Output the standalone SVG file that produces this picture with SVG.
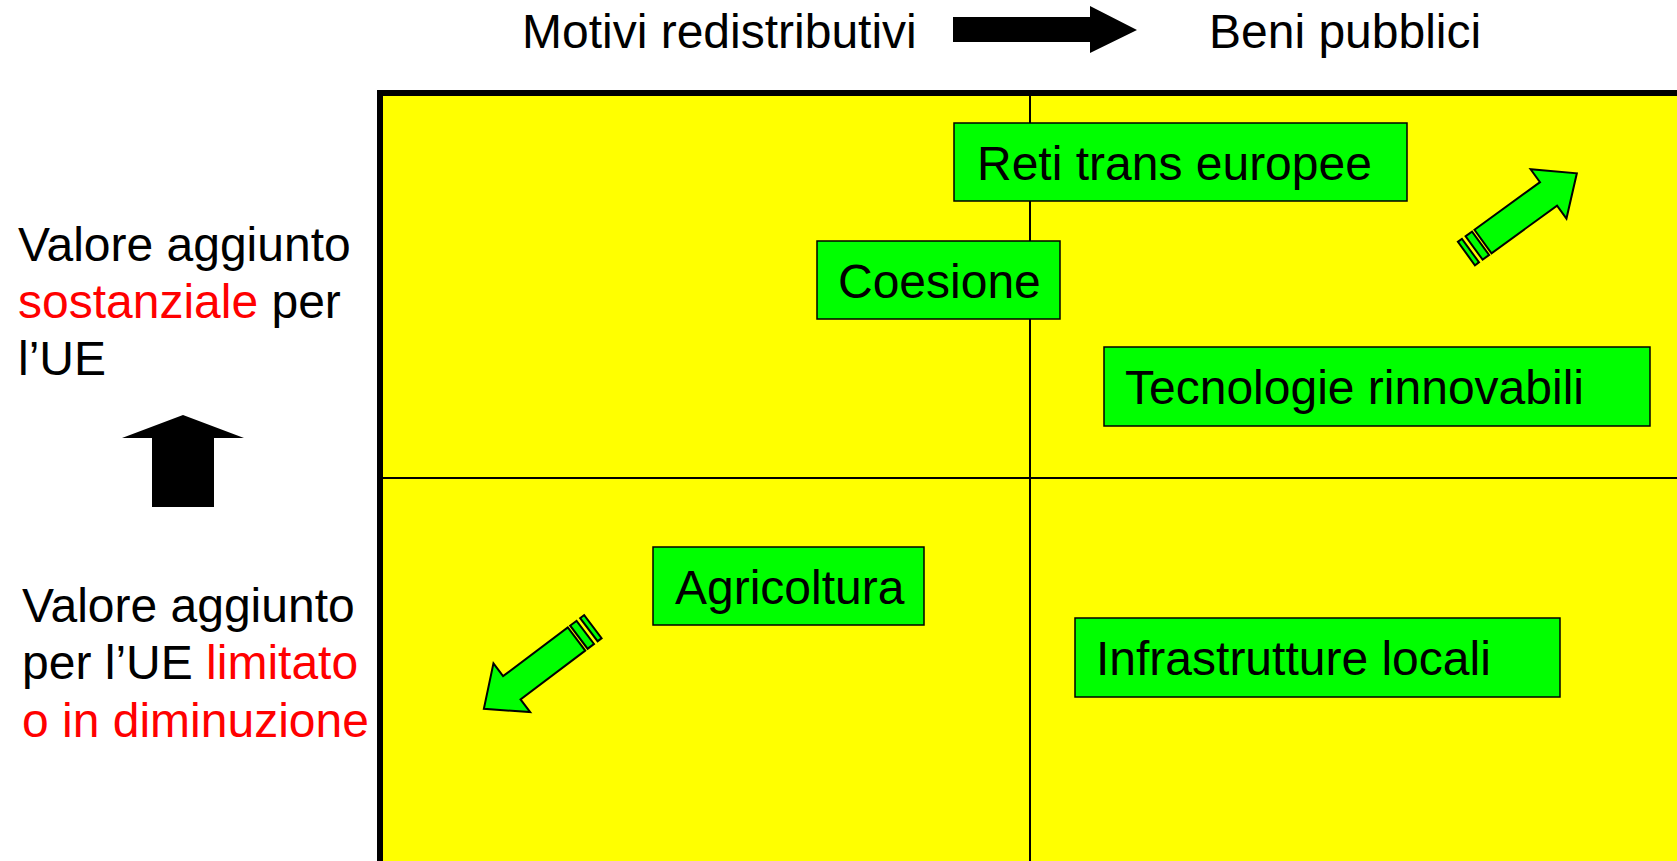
<svg xmlns="http://www.w3.org/2000/svg" width="1677" height="861" viewBox="0 0 1677 861">
<style>
text{font-family:"Liberation Sans",Arial,sans-serif;font-size:48px;fill:#000}
.red{fill:#ff0000}
.box{fill:#00ff00;stroke:#000;stroke-width:1.5}
.div{stroke:#000;stroke-width:2}
.garrow{fill:#00ff00;stroke:#000;stroke-width:2;stroke-linejoin:miter}
</style>
<defs>
<g id="stripedArrow">
<path class="garrow" d="M0,-14.5 L81,-14.5 L81,-30.5 L116,0 L81,30.5 L81,14.5 L0,14.5 Z"/>
<rect class="garrow" x="-11" y="-14.5" width="8" height="29"/>
<rect class="garrow" x="-20.5" y="-14.5" width="5" height="29"/>
</g>
</defs>
<rect width="1677" height="861" fill="#fff"/>
<g id="grid">
<rect x="380" y="93" width="1310" height="780" fill="#ffff00" stroke="#000" stroke-width="6"/>
<line class="div" x1="1030" y1="93" x2="1030" y2="861"/>
<line class="div" x1="380" y1="478" x2="1677" y2="478"/>
</g>
<g id="header">
<text x="522" y="48">Motivi redistributivi</text>
<path d="M953,17 L1090,17 L1090,6 L1137,30 L1090,53 L1090,42 L953,42 Z" fill="#000"/>
<text x="1209" y="48">Beni pubblici</text>
</g>
<g id="axis-left">
<text x="18" y="261">Valore aggiunto</text>
<text x="18" y="318"><tspan class="red">sostanziale</tspan> per</text>
<text x="18" y="375">l’UE</text>
<path d="M183,415 L244,438 L214,438 L214,507 L152,507 L152,438 L122,438 Z" fill="#000"/>
<text x="22" y="622">Valore aggiunto</text>
<text x="22" y="679">per l’UE <tspan class="red">limitato</tspan></text>
<text x="22" y="737" class="red">o in diminuzione</text>
</g>
<g id="node-reti">
<rect class="box" x="954" y="123" width="453" height="78"/>
<text x="977" y="180">Reti trans europee</text>
</g>
<g id="node-coesione">
<rect class="box" x="817" y="241" width="243" height="78"/>
<text x="838" y="298">Coesione</text>
</g>
<g id="node-tecnologie">
<rect class="box" x="1104" y="347" width="546" height="79"/>
<text x="1125" y="404">Tecnologie rinnovabili</text>
</g>
<g id="node-agricoltura">
<rect class="box" x="653" y="547" width="271" height="78"/>
<text x="675" y="604">Agricoltura</text>
</g>
<g id="node-infrastrutture">
<rect class="box" x="1075" y="618" width="485" height="79"/>
<text x="1096" y="675">Infrastrutture locali</text>
</g>
<g id="connectors">
<use href="#stripedArrow" transform="translate(1483,241.5) rotate(-36)"/>
<use href="#stripedArrow" transform="translate(576.5,639) rotate(143)"/>
</g>
</svg>
